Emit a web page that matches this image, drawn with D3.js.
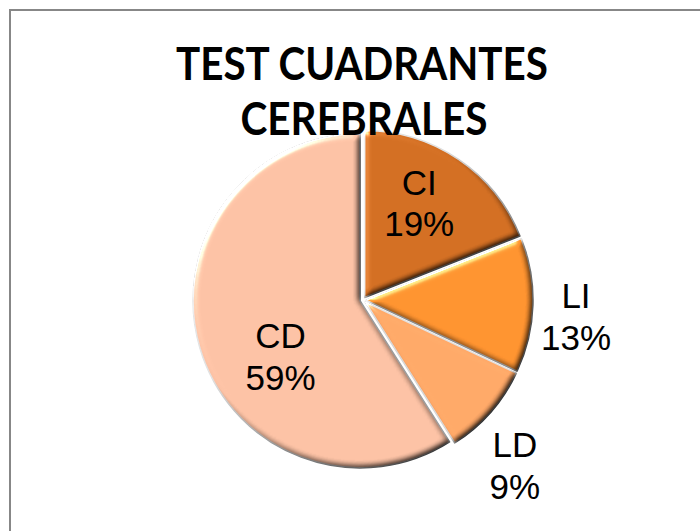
<!DOCTYPE html>
<html>
<head>
<meta charset="utf-8">
<script src="https://cdn.jsdelivr.net/npm/d3@7"></script>
<style>
  body { margin: 0; background: #fff; }
  svg { display: block; }
</style>
</head>
<body>
<div id="chart"></div>
<script>
// data
var categories = ["CI", "LI", "LD", "CD"];
var values = [19, 13, 9, 59];
var titleLines = ["TEST CUADRANTES", "CEREBRALES"];

(function() {
    var width = 700,
        height = 531;

    var cx = 363, cy = 300, radius = 167;

    var sliceColors = ["#c76820", "#f28b2d", "#f79f62", "#eeb79b"];

    // where the label goes: inside or outside of the slice, and a small nudge
    var labelStyle = {
        CI: { r: 0.62, dx: -2, dy: -11 },
        LI: { r: 1.30, dx: -4, dy: 10 },
        LD: { r: 1.30, dx: -11, dy: 22 },
        CD: { r: 0.62, dx: 17, dy: 28 }
    };

    var svg = d3.select("#chart")
        .append("svg")
        .attr("width", width)
        .attr("height", height);

    var defs = svg.append("defs");

    // soft round bevel: shade the far edges, light up the near ones
    var bevel = defs.append("filter")
        .attr("id", "bevel")
        .attr("x", "-10%").attr("y", "-10%")
        .attr("width", "120%").attr("height", "120%")
        .attr("color-interpolation-filters", "sRGB");
    bevel.append("feGaussianBlur")
        .attr("in", "SourceAlpha")
        .attr("stdDeviation", 3)
        .attr("result", "blur");
    bevel.append("feDiffuseLighting")
        .attr("in", "blur")
        .attr("surfaceScale", 3)
        .attr("diffuseConstant", 1.42)
        .attr("lighting-color", "#ffffff")
        .attr("result", "diff")
        .append("feDistantLight")
        .attr("azimuth", 225)
        .attr("elevation", 45);
    bevel.append("feComposite")
        .attr("in", "SourceGraphic")
        .attr("in2", "diff")
        .attr("operator", "arithmetic")
        .attr("k1", 1).attr("k2", 0).attr("k3", 0).attr("k4", 0)
        .attr("result", "shaded");
    bevel.append("feSpecularLighting")
        .attr("in", "blur")
        .attr("surfaceScale", 3)
        .attr("specularConstant", 0.6)
        .attr("specularExponent", 25)
        .attr("lighting-color", "#ffffff")
        .attr("result", "spec")
        .append("feDistantLight")
        .attr("azimuth", 225)
        .attr("elevation", 25);
    bevel.append("feComposite")
        .attr("in", "spec")
        .attr("in2", "SourceAlpha")
        .attr("operator", "in")
        .attr("result", "specIn");
    bevel.append("feComposite")
        .attr("in", "shaded")
        .attr("in2", "specIn")
        .attr("operator", "arithmetic")
        .attr("k1", 0).attr("k2", 1).attr("k3", 1).attr("k4", 0);

    var color = d3.scaleOrdinal()
        .domain(categories)
        .range(sliceColors);

    categories.forEach(function(c) {
        var base = d3.color(color(c));
        var g = defs.append("linearGradient")
            .attr("id", "grad_" + c)
            .attr("gradientUnits", "userSpaceOnUse")
            .attr("x1", cx - radius).attr("y1", cy - radius)
            .attr("x2", cx + radius * 0.4).attr("y2", cy + radius);
        g.append("stop").attr("offset", "0%").attr("stop-color", base.brighter(0.15));
        g.append("stop").attr("offset", "100%").attr("stop-color", base.darker(0.3));
    });

    // outer frame
    svg.append("rect")
        .attr("x", 10).attr("y", 10)
        .attr("width", 720).attr("height", 560)
        .attr("fill", "none")
        .attr("stroke", "#878787")
        .attr("stroke-width", 2);

    var data = categories.map(function(c, i) {
        return { name: c, value: values[i] };
    });
    var total = d3.sum(values);

    var pie = d3.pie()
        .sort(null)
        .value(function(d) { return d.value; });

    var arc = d3.arc()
        .innerRadius(0)
        .outerRadius(radius);

    var arcs = pie(data);
    var explode = 3;

    var g = svg.append("g")
        .attr("transform", "translate(" + cx + "," + cy + ")");

    g.selectAll(".slice")
        .data(arcs)
        .enter()
        .append("path")
        .attr("class", "slice")
        .attr("transform", function(d) {
            var a = (d.startAngle + d.endAngle) / 2;
            return "translate(" + (Math.sin(a) * explode) + "," + (-Math.cos(a) * explode) + ")";
        })
        .attr("d", arc)
        .attr("fill", function(d) { return "url(#grad_" + d.data.name + ")"; })
        .attr("stroke", "#e2e2e2")
        .attr("stroke-width", 1.5)
        .attr("stroke-linejoin", "round")
        .attr("filter", "url(#bevel)");

    // data labels
    var labels = svg.selectAll(".label")
        .data(arcs)
        .enter()
        .append("text")
        .attr("class", "label")
        .attr("text-anchor", "middle")
        .style("font-family", "'Liberation Sans', Arial, sans-serif")
        .style("font-size", "35px")
        .attr("fill", "#000")
        .attr("transform", function(d) {
            var s = labelStyle[d.data.name];
            var la = d3.arc().innerRadius(radius * s.r).outerRadius(radius * s.r);
            var c = la.centroid(d);
            return "translate(" + (cx + c[0] + s.dx) + "," + (cy + c[1] + s.dy) + ")";
        });
    labels.append("tspan")
        .attr("x", 0).attr("y", -8.5)
        .text(function(d) { return d.data.name; });
    labels.append("tspan")
        .attr("x", 0).attr("y", 33)
        .text(function(d) { return Math.round(d.data.value / total * 100) + "%"; });

    // title
    var title = svg.append("text")
        .attr("text-anchor", "middle")
        .style("font-family", "Lato, 'Open Sans', sans-serif")
        .style("font-weight", "bold")
        .style("font-size", "45px")
        .attr("fill", "#000");
    title.append("tspan")
        .attr("x", 362).attr("y", 80)
        .attr("textLength", 372)
        .attr("lengthAdjust", "spacingAndGlyphs")
        .text(titleLines[0]);
    title.append("tspan")
        .attr("x", 364).attr("y", 135)
        .attr("textLength", 247)
        .attr("lengthAdjust", "spacingAndGlyphs")
        .text(titleLines[1]);
})();
</script>
</body>
</html>
